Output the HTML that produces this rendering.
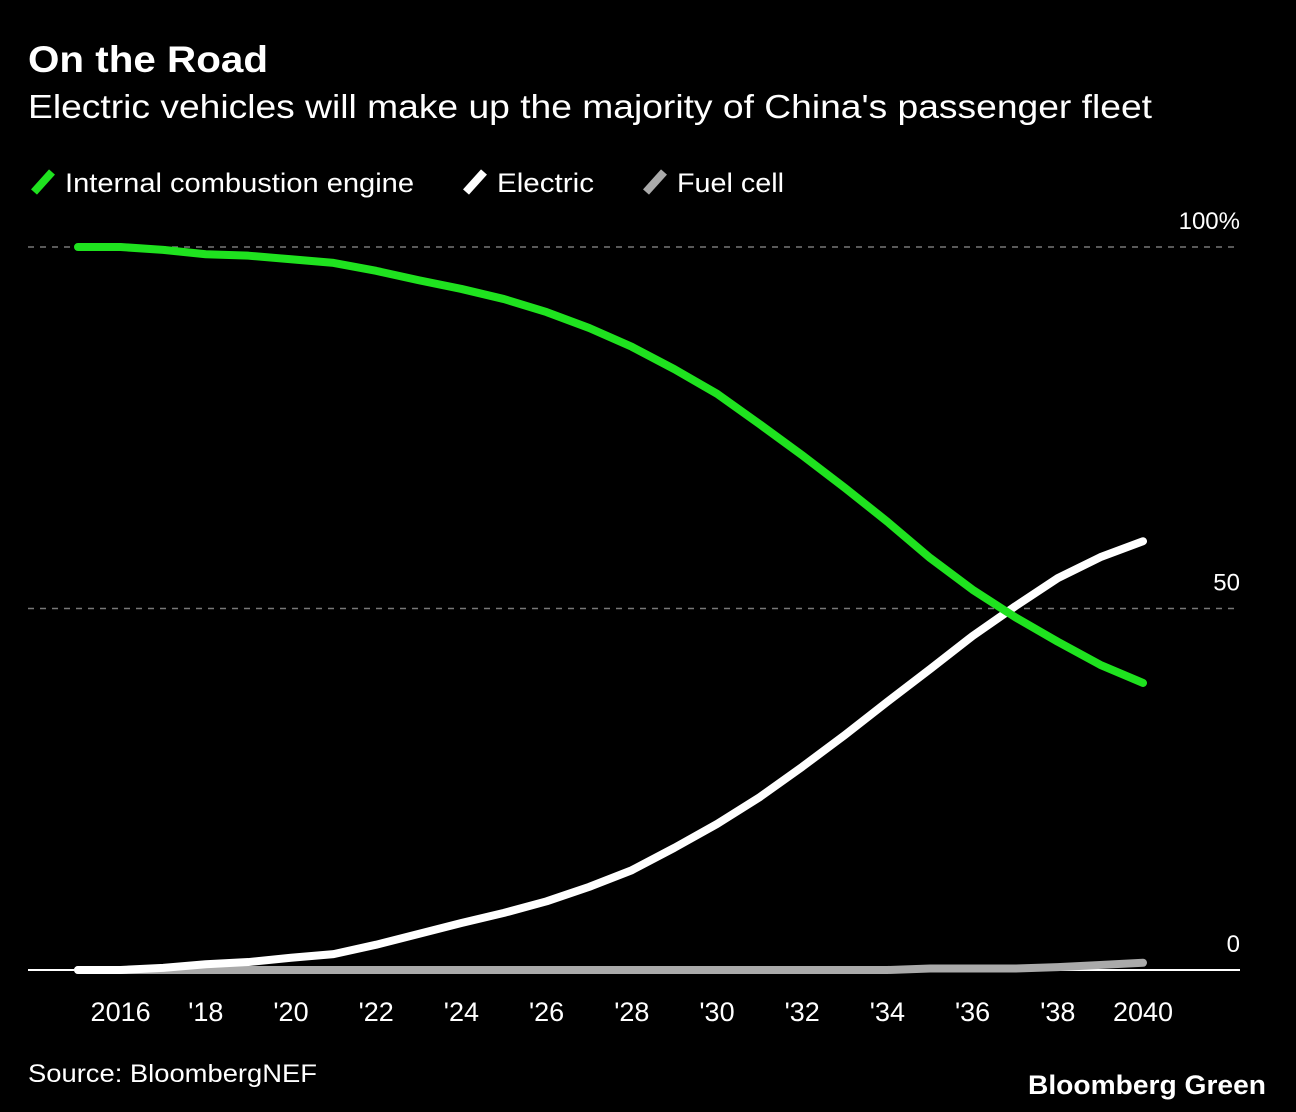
<!DOCTYPE html>
<html><head><meta charset="utf-8"><style>
body{margin:0;background:#000;width:1296px;height:1112px;overflow:hidden;font-family:"Liberation Sans",sans-serif;color:#fff}
</style></head><body>
<svg width="1296" height="1112" id="svg" style="position:absolute;left:0;top:0">
<text x="28" y="72" font-size="37" font-weight="bold" fill="#fff" textLength="240" lengthAdjust="spacingAndGlyphs">On the Road</text>
<text x="28" y="118" font-size="33" fill="#fff" textLength="1124" lengthAdjust="spacingAndGlyphs">Electric vehicles will make up the majority of China's passenger fleet</text>
<g>
<line x1="34" y1="192" x2="52" y2="172" stroke="#1fe21f" stroke-width="8"/>
<text x="65" y="192" font-size="27" fill="#fff" textLength="349" lengthAdjust="spacingAndGlyphs">Internal combustion engine</text>
<line x1="466" y1="192" x2="484" y2="172" stroke="#fff" stroke-width="8"/>
<text x="497" y="192" font-size="27" fill="#fff" textLength="97" lengthAdjust="spacingAndGlyphs">Electric</text>
<line x1="646" y1="192" x2="664" y2="172" stroke="#aaa" stroke-width="8"/>
<text x="677" y="192" font-size="27" fill="#fff" textLength="107" lengthAdjust="spacingAndGlyphs">Fuel cell</text>
</g>
<g id="grid"></g><g id="lines"></g><g id="xt"></g>
<text x="28" y="1082" font-size="25" fill="#fff" textLength="289" lengthAdjust="spacingAndGlyphs">Source: BloombergNEF</text>
<text x="1266" y="1094" font-size="27" font-weight="bold" fill="#fff" text-anchor="end" textLength="238" lengthAdjust="spacingAndGlyphs">Bloomberg Green</text>
</svg>
<script>
const years=[2015,2016,2017,2018,2019,2020,2021,2022,2023,2024,2025,2026,2027,2028,2029,2030,2031,2032,2033,2034,2035,2036,2037,2038,2039,2040];
const ice=[100,100,99.6,99,98.8,98.3,97.8,96.7,95.4,94.2,92.8,91,88.8,86.2,83.1,79.7,75.5,71.2,66.7,62,57,52.6,48.8,45.4,42.2,39.7];
const electric=[0,0,0.3,0.8,1.1,1.7,2.2,3.5,5,6.5,7.9,9.5,11.5,13.8,16.9,20.2,23.9,28.1,32.5,37.1,41.6,46.2,50.3,54.2,57.1,59.3];
const fuelCell=[0,0,0,0,0,0,0,0,0,0,0,0,0,0,0,0,0,0,0,0,0.2,0.2,0.2,0.4,0.7,1];
const yTicks=[0,50,100];
const yTickLabels=["0","50","100%"];
const xTickYears=[2016,2018,2020,2022,2024,2026,2028,2030,2032,2034,2036,2038,2040];
const xTickLabels=["2016","'18","'20","'22","'24","'26","'28","'30","'32","'34","'36","'38","2040"];
const X=v=>78+(v-2015)*(1143-78)/25;
const Y=v=>970-v*(970-247)/100;
const NS="http://www.w3.org/2000/svg";
function mk(t,a,p){const e=document.createElementNS(NS,t);for(const k in a)e.setAttribute(k,a[k]);p.appendChild(e);return e;}
const grid=document.getElementById('grid');
yTicks.forEach((t,i)=>{
 const l=mk('line',{x1:28,x2:1240,y1:Y(t),y2:Y(t),stroke:t===0?'#fff':'#777','stroke-width':t===0?2:1.5,'stroke-dasharray':t===0?'':'6,6'},grid);
 
 
 const tx=mk('text',{x:1240,y:Y(t)-18,'font-size':24,fill:'#fff','text-anchor':'end'},grid);
 tx.textContent=yTickLabels[i];
 
 
});
const xt=document.getElementById('xt');
xTickYears.forEach((y,i)=>{
 const t=mk('text',{x:X(y),y:1021,'font-size':27,fill:'#fff','text-anchor':'middle'},xt);
 t.textContent=xTickLabels[i];
 
 
});
const lines=document.getElementById('lines');
[[fuelCell,'#aaa','fuel-cell-line'],[electric,'#fff','electric-line'],[ice,'#1fe21f','ice-line']].forEach(([d,c,n])=>{
 const p=mk('polyline',{points:d.map((v,i)=>X(years[i])+','+Y(v)).join(' '),fill:'none',stroke:c,'stroke-width':8,'stroke-linecap':'round','stroke-linejoin':'round'},lines);
 
 
});
</script>
</body></html>
